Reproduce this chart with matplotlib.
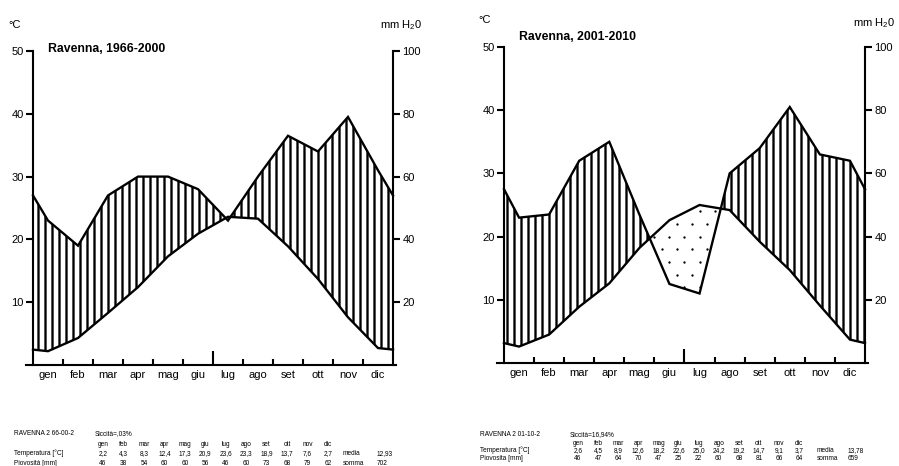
import numpy as np
import matplotlib
matplotlib.use('Agg')
import matplotlib.pyplot as plt
from matplotlib.path import Path

plt.rcParams['font.family'] = ['Liberation Sans', 'DejaVu Sans']
plt.rcParams['mathtext.default'] = 'regular'
plt.rcParams['hatch.linewidth'] = 2.0

DPI = 84
W, H = 900, 466

months = ['gen', 'feb', 'mar', 'apr', 'mag', 'giu', 'lug', 'ago', 'set', 'ott', 'nov', 'dic']

# Ravenna 1966-2000
temp_a = [2.2, 4.3, 8.3, 12.4, 17.3, 20.9, 23.6, 23.3, 18.9, 13.7, 7.6, 2.7]
rain_a = [46, 38, 54, 60, 60, 56, 46, 60, 73, 68, 79, 62]
total_a = 702
dry_a = 'Siccità=,03%'

# Ravenna 2001-2010
temp_b = [2.6, 4.5, 8.9, 12.6, 18.2, 22.6, 25.0, 24.2, 19.2, 14.7, 9.1, 3.7]
rain_b = [46, 47, 64, 70, 47, 25, 22, 60, 68, 81, 66, 64]
total_b = 659
dry_b = 'Siccità=16,94%'


def fx(x):
    return x / W


def fy(y):
    return 1 - y / H


def comma(v, nd=1):
    return f'{round(v + 1e-9, nd):.{nd}f}'.replace('.', ',')


def with_edges(vals):
    # the curve is closed at both spines with the dec/jan mean
    vals = np.asarray(vals, dtype=float)
    edge = (vals[0] + vals[-1]) / 2
    return np.concatenate([[edge], vals, [edge]])


def panel(x0, x1, y0, y50, temp, rain, title, title_xy):
    w = (x1 - x0) / 12
    lo, hi = -0.22, 12.1
    left = x0 + lo * w
    right = x1 + (hi - 12) * w
    ax = fig.add_axes([fx(left), fy(y0), fx(right - left), (y0 - y50) / H])
    ax.set_xlim(lo, hi)
    ax.set_ylim(0, 50)
    ax.patch.set_alpha(0)

    x = np.concatenate([[0], np.arange(12) + 0.5, [12]])
    t = with_edges(temp)
    p = with_edges(rain) / 2

    # humid months: vertical hatching
    ax.fill_between(x, t, p, where=p >= t, interpolate=True, facecolor='none',
                    edgecolor='black', hatch='||', linewidth=0)
    # dry months: sparse dots clipped to the gap between the curves
    dry = ax.fill_between(x, t, p, where=p <= t, interpolate=True, facecolor='none',
                          linewidth=0)
    paths = dry.get_paths()
    if paths:
        gx, gy = [], []
        for k, yy in enumerate(np.arange(0, 50, 2.0)):
            xs = np.arange(0.25 * (k % 2), 12, 0.5)
            gx.extend(xs)
            gy.extend([yy] * len(xs))
        dots = ax.scatter(gx, gy, s=4, color='black', linewidths=0)
        dots.set_clip_path(Path.make_compound_path(*paths), ax.transData)

    ax.plot(x, t, color='black', lw=2, solid_joinstyle='miter')
    ax.plot(x, p, color='black', lw=2, solid_joinstyle='miter')

    ax.spines['top'].set_visible(False)
    ax.spines['right'].set_visible(False)
    ax.spines['left'].set_position(('data', 0))
    for s in ['left', 'bottom']:
        ax.spines[s].set_linewidth(1.8)

    ax.set_yticks([10, 20, 30, 40, 50])
    ax.tick_params(axis='y', direction='out', length=6, width=1.8, labelsize=9.5, pad=2)

    ax.set_xticks(np.arange(1, 12))
    ax.set_xticklabels([])
    ax.set_xticks(np.arange(12) + 0.5, minor=True)
    ax.set_xticklabels(months, minor=True)
    ax.tick_params(axis='x', which='major', direction='in', length=5, width=1.8)
    ax.tick_params(axis='x', which='minor', length=0, labelsize=9.5, pad=4)
    ax.xaxis.get_major_ticks()[5].tick1line.set_markersize(12)

    sec = ax.secondary_yaxis((12 - lo) / (hi - lo), functions=(lambda v: v * 2, lambda v: v / 2))
    sec.set_yticks([20, 40, 60, 80, 100])
    sec.spines['right'].set_linewidth(1.8)
    sec.tick_params(direction='out', length=6, width=1.8, labelsize=9.5, pad=2)

    fig.text(fx(title_xy[0]), fy(title_xy[1]), title, fontsize=10.5, fontweight='bold',
             ha='left', va='center')
    return ax


def table(x_label, x_month, step, x_media, x_val, rows_y, name, dry, rain_label,
          temp, rain, total):
    yh, ym, yt, yp = rows_y
    kw = dict(fontsize=5.6, va='baseline')
    fig.text(fx(x_label), fy(yh), name, **kw)
    fig.text(fx(x_month - 8), fy(yh), dry, **kw)
    fig.text(fx(x_label), fy(yt), 'Temperatura [°C]', **kw)
    fig.text(fx(x_label), fy(yp), rain_label, **kw)
    for i, m in enumerate(months):
        xc = x_month + i * step
        fig.text(fx(xc), fy(ym), m, ha='center', **kw)
        fig.text(fx(xc), fy(yt), comma(temp[i]), ha='center', **kw)
        fig.text(fx(xc), fy(yp), str(rain[i]), ha='center', **kw)
    fig.text(fx(x_media), fy(yt), 'media', **kw)
    fig.text(fx(x_val), fy(yt), comma(np.mean(temp), 2), **kw)
    fig.text(fx(x_media), fy(yp), 'somma', **kw)
    fig.text(fx(x_val), fy(yp), str(total), **kw)


fig = plt.figure(figsize=(W / DPI, H / DPI), dpi=DPI)

panel(33, 393, 365, 51, temp_a, rain_a, 'Ravenna, 1966-2000', (48, 49))
fig.text(fx(8), fy(25), '°C', fontsize=9.5, va='center')
fig.text(fx(380), fy(25), 'mm H$_2$0', fontsize=9.5, va='center')

panel(504, 865, 363, 47, temp_b, rain_b, 'Ravenna, 2001-2010', (519, 37))
fig.text(fx(478), fy(20), '°C', fontsize=9.5, va='center')
fig.text(fx(853), fy(23), 'mm H$_2$0', fontsize=9.5, va='center')

table(14, 103, 20.45, 343, 377, (435, 446, 455, 465), 'RAVENNA 2 66-00-2', dry_a,
      'Piovosità [mm]', temp_a, rain_a, total_a)
table(480, 578, 20.1, 817, 848, (436, 445, 452, 460), 'RAVENNA 2 01-10-2', dry_b,
      'Piovosita [mm]', temp_b, rain_b, total_b)

fig.savefig('out.png', dpi=DPI)
